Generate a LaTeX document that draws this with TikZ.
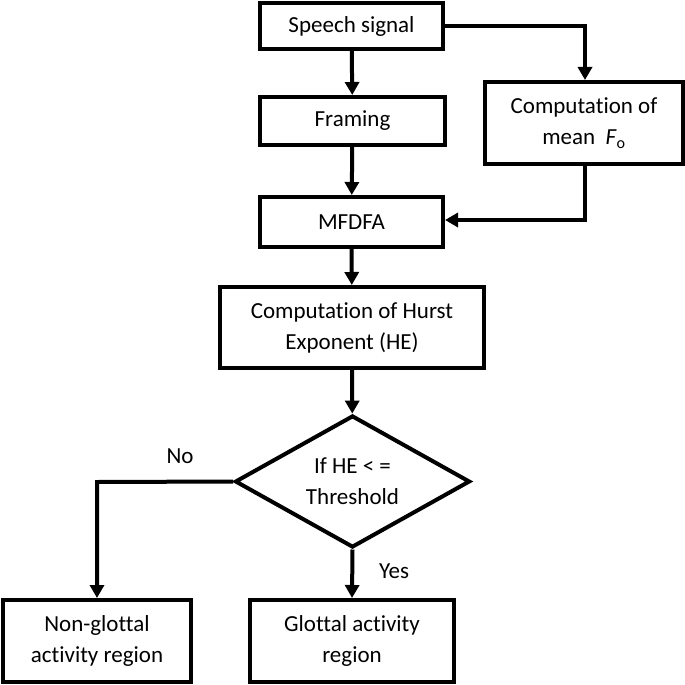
\documentclass[tikz,border=0pt]{standalone}
\usepackage{fontspec}
\setmainfont{Carlito}[Ligatures=NoCommon]
\usetikzlibrary{arrows.meta,shapes.geometric}
\begin{document}
\begin{tikzpicture}[x=1pt,y=-1pt,
  fnt/.style={font=\fontsize{23}{31}\selectfont},
  box/.style={draw,line width=4pt,inner sep=0pt,align=center,fnt},
  dec/.style={draw,diamond,line width=4pt,inner sep=0pt,aspect=1.78,minimum width=235pt,minimum height=132pt,align=center,fnt},
  arr/.style={line width=4pt,-{Triangle[width=14pt,length=13pt]}},
  lbl/.style={fnt}]
\useasboundingbox (0,0) rectangle (685,685);
\node[box,minimum width=183pt,minimum height=46pt] (sp) at (351.5,26) {Speech signal};
\node[box,minimum width=185pt,minimum height=48pt] (fr) at (352.5,121) {Framing};
\node[box,minimum width=198pt,minimum height=82pt] (mf0) at (584,123) {Computation of\\mean\ \ \textit{F}\textsubscript{o}};
\node[box,minimum width=183pt,minimum height=50pt] (mfd) at (351.5,222) {MFDFA};
\node[box,minimum width=264pt,minimum height=81pt] (he) at (352,327.5) {Computation of Hurst\\Exponent (HE)};
\node[dec] (th) at (352.5,481.5) {If HE < =\\Threshold};
\node[box,minimum width=188pt,minimum height=82pt] (ng) at (97,641) {Non-glottal\\activity region};
\node[box,minimum width=204pt,minimum height=82pt] (gl) at (352,641) {Glottal activity\\region};
\coordinate (c1) at (585,26);
\coordinate (c2) at (585,220);
\coordinate (c3) at (97,482);
\draw[arr] (sp) -- (fr);
\draw[arr] (fr) -- (mfd);
\draw[arr] (sp.east |- c1) -- (c1) -- (mf0.north -| c1);
\draw[arr] (mf0.south -| c2) -- (c2) -- (mfd.east |- c2);
\draw[arr] (mfd) -- (he);
\draw[arr] (he) -- (th);
\draw[arr] (th.west) -- (c3) -- (ng.north -| c3);
\draw[arr] (th.south) -- (gl.north);
\node[lbl] (no) at (180,456) {No};
\node[lbl] (yes) at (394,571) {Yes};
\end{tikzpicture}
\end{document}
